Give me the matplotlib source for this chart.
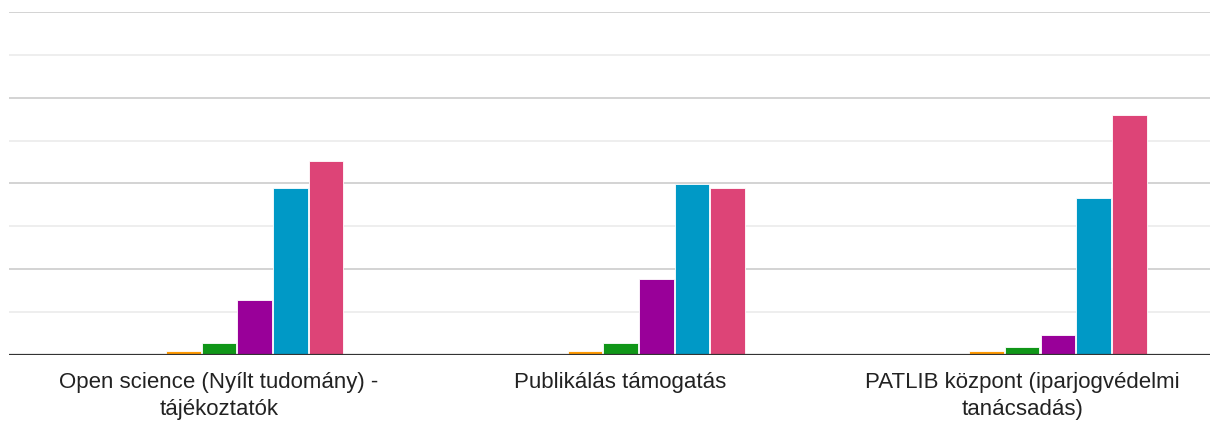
import numpy as np
import matplotlib
matplotlib.use('Agg')
import matplotlib.pyplot as plt

categories = [
    "Open science (Nyílt tudomány) -\ntájékoztatók",
    "Publikálás támogatás",
    "PATLIB központ (iparjogvédelmi\ntanácsadás)",
]
series_colors = ['#3366cc', '#dc3912', '#ff9900', '#109618', '#990099', '#0099c6', '#dd4477']

# values per series (one list per colour)
s1 = [0.2, 0.2, 0.2]
s2 = [0.2, 0.2, 0.2]
s3 = [0.9, 0.9, 0.9]
s4 = [2.9, 2.7, 1.9]
s5 = [12.8, 17.7, 4.6]
s6 = [38.9, 39.9, 36.6]
s7 = [45.2, 38.9, 56.0]
series = [s1, s2, s3, s4, s5, s6, s7]

plt.rcParams['font.family'] = ['Liberation Sans', 'DejaVu Sans']

fig = plt.figure(figsize=(12.1, 4.23), dpi=100)
ax = fig.add_axes([9 / 1210, 68 / 423, 1201 / 1210, 343 / 423])

x = np.arange(len(categories))
step = 0.089
width = 0.086
for i, (vals, col) in enumerate(zip(series, series_colors)):
    offs = (i - 3) * step
    alpha = 0.35 if i < 2 else 1.0
    ax.bar(x + offs, vals, width=width, color=col, alpha=alpha,
           edgecolor='white', linewidth=0.6, zorder=3)

ax.set_ylim(0, 80)
ax.set_xlim(-0.523, 2.468)

for y in np.arange(10, 81, 10):
    major = (y % 20 == 0)
    ax.axhline(y, color='#cccccc' if major else '#ebebeb', linewidth=1.2, zorder=1)
ax.axhline(0, color='#333333', linewidth=1.6, zorder=4)

for s in ax.spines.values():
    s.set_visible(False)
ax.set_yticks([])
ax.set_xticks(x)
ax.set_xticklabels(categories, fontsize=16, color='#222222', linespacing=1.4)
ax.tick_params(axis='x', length=0, pad=12)

plt.savefig('out.png', dpi=100)
plt.close('all')
